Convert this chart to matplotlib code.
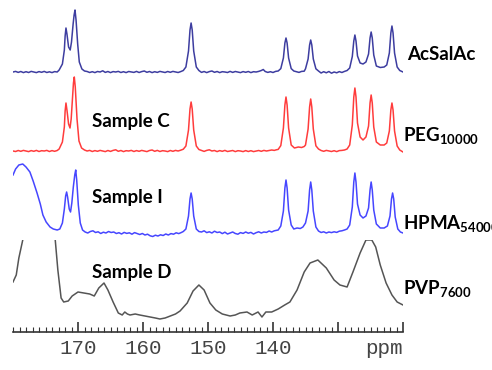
import numpy as np
import matplotlib
matplotlib.use("Agg")
import matplotlib.pyplot as plt
from matplotlib.patches import Rectangle

plt.rcParams['mathtext.fontset'] = 'custom'
plt.rcParams['mathtext.bf'] = 'Lato:bold'
plt.rcParams['mathtext.rm'] = 'Lato:bold'

# traced spectra: (ppm, intensity above own baseline)
acsal = [(180.0, 0), (179.6, 0.6), (179.2, -0.4), (178.8, 0.5), (178.4, -0.6), (178.0, 0.3),
         (177.6, -0.5), (177.2, 0.6), (176.8, 0), (176.4, -0.6), (176.0, 0.4), (175.6, -0.3),
         (175.2, 0.6), (174.8, -0.5), (174.4, 0.2), (174.0, -0.6), (173.6, 0.4), (173.2, 0),
         (172.9, 2), (172.4, 8), (172.1, 22), (171.98, 36), (171.85, 44), (171.7, 38),
         (171.45, 25), (171.2, 22), (171.0, 30), (170.75, 48), (170.6, 57), (170.46, 62),
         (170.3, 52), (170.05, 28), (169.8, 10), (169.4, 3), (169.0, 1),
         (168.6, 0.5), (168.2, -0.5), (167.8, 0.3), (167.4, -0.6), (167.0, 0.5), (166.6, 0),
         (166.2, 1.2), (165.8, -0.4), (165.4, 0.5), (165.0, -0.6), (164.6, 0.4), (164.2, 0),
         (163.8, 0.6), (163.4, -0.5), (163.0, 0.3), (162.6, -0.6), (162.2, 0.5), (161.8, 0),
         (161.4, -0.4), (161.0, 0.6), (160.6, -0.5), (160.2, 0.4), (159.8, 1.0), (159.4, -0.3),
         (159.0, 0.5), (158.6, -0.6), (158.2, 0.3), (157.8, -0.4), (157.4, 0.6), (157.0, 0),
         (156.6, -0.5), (156.2, 0.5), (155.8, -0.3), (155.4, 0.6), (155.0, 0), (154.6, -0.5),
         (154.2, 0.4), (153.8, 1.5),
         (153.4, 5), (153.0, 21), (152.77, 42), (152.6, 49), (152.43, 42), (152.2, 21), (151.8, 5),
         (151.4, 1.5), (151.0, -0.4), (150.6, 0.5), (150.2, -0.6), (149.8, 0.4), (149.4, 1.0),
         (149.0, -0.3), (148.6, 0.5), (148.2, -0.6), (147.8, 0.3), (147.4, 0), (147.0, -0.5),
         (146.6, 0.6), (146.2, -0.4), (145.8, 0.5), (145.4, 0), (145.0, -0.6), (144.6, 0.4),
         (144.2, -0.3), (143.8, 0.5), (143.4, -0.6), (143.0, 0.3), (142.6, 0), (142.2, 0.6),
         (141.8, 1.5), (141.5, 2.5), (141.2, 0.5), (140.8, -0.4), (140.4, 0.3), (140.0, -0.5),
         (139.6, 0.6), (139.2, 1),
         (138.8, 3.4), (138.4, 14), (138.17, 29), (138.0, 34), (137.83, 29), (137.6, 14), (137.2, 3.4),
         (136.8, 1), (136.4, 0.3), (136.0, -0.4), (135.6, 0.6), (135.2, 0.8),
         (135.0, 3.2), (134.6, 13), (134.37, 27), (134.2, 32), (134.03, 27), (133.8, 13), (133.4, 3.2),
         (133.0, 1), (132.6, -1.0), (132.2, 0.3), (131.8, -0.8), (131.4, 0.5), (131.0, -1.2),
         (130.6, 0), (130.2, -0.8), (129.8, 0.4), (129.4, -0.5), (129.0, 0.6), (128.6, 1.5),
         (128.2, 4), (127.8, 15.5), (127.57, 31), (127.4, 37), (127.23, 31), (127.0, 16), (126.6, 9),
         (126.15, 8),
         (125.7, 10), (125.3, 18), (125.07, 34), (124.9, 40), (124.73, 34), (124.5, 17), (124.1, 6),
         (123.5, 4.5), (122.9, 5),
         (122.5, 7), (122.1, 19), (121.87, 39), (121.7, 46), (121.53, 39), (121.3, 19), (120.9, 5),
         (120.5, 1.5), (120.0, 0)]

peg = [(180.0, 0), (179.6, -0.5), (179.2, 0.5), (178.8, -0.3), (178.4, 0.6), (178.0, 0),
       (177.6, -0.6), (177.2, 0.4), (176.8, -0.3), (176.4, 0.6), (176.0, -0.5), (175.6, 0.3),
       (175.2, 0), (174.8, 0.6), (174.4, -0.5), (174.0, 0.4), (173.6, -0.3), (173.2, 0.5),
       (172.9, 2), (172.4, 9), (172.1, 24), (171.98, 40), (171.85, 48), (171.7, 41),
       (171.45, 27), (171.23, 23), (171.05, 32), (170.85, 52), (170.7, 68), (170.57, 74),
       (170.42, 64), (170.15, 32), (169.85, 10), (169.45, 3), (169.0, 1),
       (168.6, 0), (168.2, 0.6), (167.8, -0.5), (167.4, 0.4), (167.0, -0.3), (166.6, 0.6),
       (166.2, 0), (165.8, -0.6), (165.4, 0.5), (165.0, -0.4), (164.6, 0.6), (164.2, 1.2),
       (163.8, -0.3), (163.4, 0.5), (163.0, -0.6), (162.6, 0.3), (162.2, 0), (161.8, 0.6),
       (161.4, -0.5), (161.0, 0.4), (160.6, -0.3), (160.2, 0.6), (159.8, 0), (159.4, -0.6),
       (159.0, 0.5), (158.6, 1.0), (158.2, -0.3), (157.8, 0.6), (157.4, -0.5), (157.0, 0.3),
       (156.6, 0), (156.2, -0.6), (155.8, 0.5), (155.4, -0.3), (155.0, 0.6), (154.6, 0),
       (154.2, 0.8), (153.8, 1.8),
       (153.4, 5), (153.0, 21), (152.77, 42), (152.6, 49), (152.43, 42), (152.2, 21), (151.8, 5),
       (151.4, 1.5), (151.0, 0.5), (150.6, -0.4), (150.2, 0.6), (149.8, 1.2), (149.4, 0),
       (149.0, 0.5), (148.6, -0.6), (148.2, 0.4), (147.8, -0.3), (147.4, 0.6), (147.0, -0.5),
       (146.6, 0), (146.2, 0.5), (145.8, -0.6), (145.4, 0.3), (145.0, 0), (144.6, -0.6),
       (144.2, 0.4), (143.8, -0.5), (143.4, 0.3), (143.0, -0.6), (142.6, 0), (142.2, 0.5),
       (141.8, -0.3), (141.4, 0.6), (141.0, 0), (140.6, 0.5), (140.2, 1.0), (139.8, 0.6),
       (139.5, 1.2), (139.2, 1.6),
       (138.8, 5.4), (138.4, 23), (138.17, 46), (138.0, 54), (137.83, 46), (137.6, 23), (137.2, 6),
       (136.7, 3), (136.1, 4), (135.6, 3.5), (135.2, 4.5),
       (135.0, 6), (134.6, 22), (134.37, 44), (134.2, 52), (134.03, 44), (133.8, 22), (133.4, 5.2),
       (133.0, 2), (132.6, 0.5), (132.2, -0.3), (131.8, 0.6), (131.4, 0), (131.0, -0.5),
       (130.6, 0.3), (130.2, -0.6), (129.8, 0.4), (129.4, 0.6), (129.0, 1.0), (128.6, 2),
       (128.2, 6), (127.8, 26), (127.57, 54), (127.4, 63), (127.23, 54), (127.0, 28), (126.6, 14),
       (126.15, 11),
       (125.7, 14), (125.3, 25), (125.07, 48), (124.9, 56), (124.73, 48), (124.5, 24), (124.1, 9),
       (123.5, 6), (122.9, 6),
       (122.5, 8), (122.1, 20), (121.87, 41), (121.7, 48), (121.53, 41), (121.3, 20), (120.9, 5),
       (120.5, 1), (120.0, -1)]

hpma = [(180.0, 58), (179.6, 64), (179.1, 68), (178.5, 69), (178.0, 66), (177.4, 61), (176.9, 52),
        (176.3, 40), (175.8, 29), (175.4, 18), (174.9, 11), (174.3, 6), (173.8, 4), (173.2, 3),
        (172.8, 4), (172.4, 10), (172.1, 24), (171.9, 37), (171.75, 41), (171.6, 36),
        (171.35, 24), (171.15, 21), (170.95, 30), (170.72, 46), (170.5, 58), (170.35, 63),
        (170.2, 53), (169.95, 28), (169.65, 10), (169.3, 3), (168.9, 1),
        (168.5, 0), (168.1, 1.5), (167.7, 2.2), (167.3, 0.5), (166.9, 1.2), (166.5, -0.5),
        (166.1, 0.8), (165.7, 0), (165.3, 1.5), (164.9, 0.5), (164.5, 1.0), (164.1, -0.5),
        (163.7, 0.3), (163.3, -1.0), (162.9, 0.6), (162.5, -0.4), (162.1, 0.2), (161.7, -1.2),
        (161.3, 0.4), (160.9, -0.6), (160.5, -1.5), (160.1, -0.5), (159.7, -2.0), (159.3, -1.2),
        (158.9, -2.8), (158.5, -3.5), (158.1, -2.2), (157.7, -3.0), (157.3, -1.8), (156.9, -2.5),
        (156.5, -1.0), (156.1, -2.0), (155.7, -0.6), (155.3, -1.2), (154.9, 0.2), (154.5, -0.6),
        (154.1, 0.5), (153.8, 1.5),
        (153.4, 4), (153.0, 17), (152.77, 34), (152.6, 40), (152.43, 34), (152.2, 17), (151.8, 4),
        (151.4, 1.5), (151.0, 1.0), (150.6, 2.2), (150.2, 0.4), (149.8, 1.2), (149.4, 0),
        (149.0, 1.8), (148.6, 0.5), (148.2, 1.0), (147.8, -0.6), (147.4, 0.8), (147.0, -1.0),
        (146.6, 0), (146.2, 1.0), (145.8, -0.5), (145.4, -1.2), (145.0, 0.4), (144.6, -0.4),
        (144.2, 1.0), (143.8, -0.2), (143.4, 0.6), (143.0, -1.0), (142.6, 0.3), (142.2, 1.2),
        (141.8, 0), (141.4, 1.0), (141.0, 0.6), (140.6, 2.0), (140.2, 1.0), (139.8, 2.2),
        (139.5, 2.6), (139.2, 3),
        (138.8, 7), (138.4, 22), (138.17, 45), (138.0, 53), (137.83, 45), (137.6, 23), (137.2, 8),
        (136.8, 4), (136.3, 5), (135.8, 4.5), (135.4, 6),
        (135.0, 10), (134.6, 22), (134.37, 43), (134.2, 51), (134.03, 43), (133.8, 22), (133.4, 6),
        (133.0, 2), (132.6, 0.5), (132.2, 1.2), (131.8, 0), (131.4, 1.0), (131.0, 0.4),
        (130.6, 1.2), (130.2, 0.6), (129.8, 1.8), (129.4, 2.2), (129.0, 3.0), (128.6, 4),
        (128.2, 8), (127.8, 26), (127.57, 51), (127.4, 60), (127.23, 51), (127.0, 29), (126.6, 18),
        (126.15, 15),
        (125.7, 17), (125.3, 25), (125.07, 43), (124.9, 51), (124.73, 43), (124.5, 23), (124.1, 9),
        (123.5, 5), (122.9, 5),
        (122.4, 7), (122.0, 17), (121.77, 34), (121.6, 40), (121.43, 34), (121.2, 16), (120.8, 4),
        (120.4, 1), (120.0, 0)]

pvp = [(180.0, 38), (179.5, 45), (179.1, 62), (178.5, 80), (177.8, 150), (176.0, 190),
       (174.3, 150), (173.5, 80), (173.1, 50), (172.6, 22), (172.2, 18), (171.5, 19), (170.9, 24),
       (170.0, 28), (169.1, 27), (168.2, 26), (167.5, 24), (166.8, 32), (166.0, 37), (165.4, 30),
       (164.6, 18), (163.8, 7), (163.2, 5), (162.8, 8), (162.4, 6), (162.0, 5), (161.2, 6),
       (160.5, 5), (159.7, 4), (158.9, 3), (158.1, 2), (157.4, 1), (156.6, 2), (155.8, 4),
       (155.0, 6), (154.3, 9), (153.2, 17), (152.3, 29), (151.4, 35), (150.6, 30), (149.7, 17),
       (148.8, 10), (147.8, 6), (146.6, 4), (145.8, 5), (145.1, 7), (144.0, 8), (143.2, 5),
       (142.3, 8), (141.7, 3), (141.1, 8), (140.2, 8), (139.2, 11), (138.2, 15), (137.4, 18),
       (136.3, 30), (135.2, 48), (134.3, 57), (133.1, 60), (131.8, 52), (130.6, 40), (129.7, 35),
       (128.6, 33), (127.7, 48), (126.6, 67), (125.7, 80), (124.8, 80), (124.2, 73), (123.5, 55),
       (122.6, 37), (121.7, 25), (120.9, 18), (120.0, 15)]

xticks = [170, 160, 150, 140, 130, 120]
xtick_labels = ['170', '160', '150', '140', '', '']

fig = plt.figure(figsize=(4.92, 3.70), dpi=100)
ax = fig.add_axes([13 / 492, 38 / 370, 390 / 492, 332 / 370])
ax.set_xlim(180, 120)
ax.set_ylim(0, 332)

traces = [(acsal, 260, '#3d3da0'), (peg, 181, '#ff3c3c'), (hpma, 99, '#4646ff'), (pvp, 12, '#555555')]
for data, base, col in traces:
    d = np.array(data, dtype=float)
    line, = ax.plot(d[:, 0], d[:, 1] + base, color=col, lw=1.1)
clip = Rectangle((120, 0), 60, 92, transform=ax.transData)
line.set_clip_path(clip)

bold = dict(fontfamily='Lato', fontweight='bold', fontsize=13.5, color='black')
ax.text(119.4, 272, 'AcSalAc', ha='left', va='baseline', clip_on=False, **bold)
ax.text(120.0, 190, r'$\mathbf{PEG}_{\mathbf{10000}}$', ha='left', va='baseline', clip_on=False, fontsize=13.5)
ax.text(120.0, 102, r'$\mathbf{HPMA}_{\mathbf{54000}}$', ha='left', va='baseline', clip_on=False, fontsize=13.5)
ax.text(120.0, 37, r'$\mathbf{PVP}_{\mathbf{7600}}$', ha='left', va='baseline', clip_on=False, fontsize=13.5)
ax.text(167.85, 205, 'Sample C', ha='left', va='baseline', **bold)
ax.text(167.85, 129, 'Sample I', ha='left', va='baseline', **bold)
ax.text(167.85, 54, 'Sample D', ha='left', va='baseline', **bold)

for s in ['top', 'left', 'right']:
    ax.spines[s].set_visible(False)
ax.spines['bottom'].set_color('#333333')
ax.spines['bottom'].set_linewidth(1.2)
ax.set_yticks([])
ax.set_xticks(xticks)
ax.set_xticklabels(xtick_labels, fontfamily='Liberation Mono', fontsize=15, color='#444444')
ax.set_xticks(np.arange(120, 181, 1), minor=True)
ax.tick_params(axis='x', which='major', direction='in', length=7, width=1.2, color='#333333', pad=5)
ax.tick_params(axis='x', which='minor', direction='in', length=3.5, width=0.8, color='#333333')
ax.text(120.0, -17, 'ppm', ha='right', va='center', fontfamily='Liberation Mono', fontsize=15,
        color='#444444', clip_on=False)

fig.savefig('out.png', dpi=100)
